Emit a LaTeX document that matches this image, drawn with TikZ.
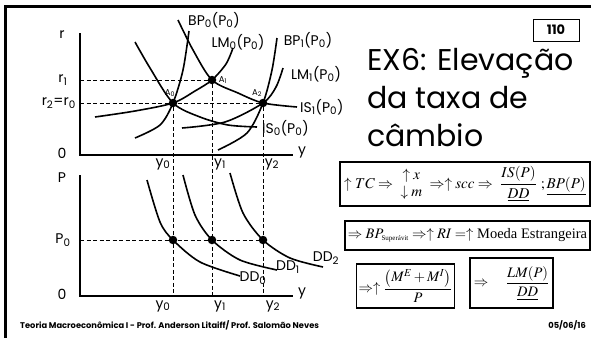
\documentclass[tikz,border=0pt]{standalone}
\usepackage{mathptmx}
\usepackage{fontspec}
\setmainfont{Poppins}
\newfontfamily\tms{Liberation Serif}
\newcommand{\ix}[1]{\textsubscript{#1}}
\begin{document}
\begin{tikzpicture}[x=1pt,y=-1pt,
  curve/.style={line width=1.6pt},
  axis/.style={line width=2pt},
  guide/.style={line width=1pt,dash pattern=on 4pt off 2.5pt},
  dot/.style={circle,fill,inner sep=0pt,minimum size=8.5pt},
  lbl/.style={font=\fontsize{14}{14}\selectfont,inner sep=0pt},
  tag/.style={font=\fontsize{8.5}{8.5}\selectfont,inner sep=0pt},
  eqbox/.style={draw,line width=1.6pt,inner sep=2pt,font=\fontsize{14.5}{16}\selectfont},
  foot/.style={font=\bfseries\fontsize{8.3}{8.3}\selectfont,inner sep=0pt}]
\useasboundingbox (0,0) rectangle (591,338);
% moldura
\draw[line width=3pt] (591,6) -- (5,6) -- (5,338);
\node[draw,line width=1pt,minimum width=46pt,minimum height=22pt,inner sep=0pt,
  font=\bfseries\fontsize{13}{13}\selectfont] (num) at (556,30) {110};
\node[anchor=north west,align=left,inner sep=0pt,
  font=\fontsize{30}{38}\selectfont] (titulo) at (367,48) {EX6: Elevação\\da taxa de\\câmbio};

% grafico IS-LM-BP
\coordinate (O1) at (80,155);
\draw[axis] (80,33) -- (O1) -- (293,155);
\node[lbl] (r) at (62,35) {r};
\node[lbl] (zero1) at (62,153) {0};
\node[lbl] (y1ax) at (302,152) {y};
\node[lbl] (r1) at (63,80) {r\ix{1}};
\node[lbl,anchor=east] (r0) at (76,103) {r\ix{2}=r\ix{0}};

\draw[curve] plot[smooth] coordinates {(135,42) (150,68) (173,103) (200,117) (228,125) (257,127)};
\draw[curve] plot[smooth] coordinates {(178,20) (193,50) (212,80) (238,93) (263,103) (297,107)};
\draw[curve] plot[smooth] coordinates {(95,117) (135,111) (173,103) (195,91) (212,80) (226,64) (233,48)};
\draw[curve] plot[smooth] coordinates {(182,128) (225,122) (263,103) (276,87) (283,68)};
\draw[curve] plot[smooth] coordinates {(135,138) (160,125) (173,103) (183,70) (189,31)};
\draw[curve] plot[smooth] coordinates {(218,150) (247,133) (263,103) (272,70) (277,38)};

\node[lbl] (bp0) at (214,20) {BP\ix{0}(P\ix{0})};
\node[lbl] (lm0) at (238,42) {LM\ix{0}(P\ix{0})};
\node[lbl] (bp1) at (308,40) {BP\ix{1}(P\ix{0})};
\node[lbl] (lm1) at (316,74) {LM\ix{1}(P\ix{0})};
\node[lbl,anchor=west] (is1) at (300,107) {IS\ix{1}(P\ix{0})};
\node[lbl,anchor=west] (is0) at (262,128) {IS\ix{0}(P\ix{0})};

\node[dot] (A0) at (173,103) {};
\node[dot] (A1) at (212,80) {};
\node[dot] (A2) at (263,103) {};
\node[tag] (a0) at (170,93) {A\ix{0}};
\node[tag] (a1) at (223,80) {A\ix{1}};
\node[tag] (a2) at (257,93) {A\ix{2}};

% grafico DD
\coordinate (O2) at (80,296);
\draw[axis] (80,175) -- (O2) -- (293,296);
\node[lbl] (P) at (62,178) {P};
\node[lbl] (p0) at (63,240) {P\ix{0}};
\node[lbl] (zero2) at (62,294) {0};
\node[lbl] (y2ax) at (302,293) {y};

\draw[curve] plot[smooth] coordinates {(147,180) (160,222) (173,240) (200,262) (240,276)};
\draw[curve] plot[smooth] coordinates {(183,175) (195,215) (212,240) (240,260) (277,270)};
\draw[curve] plot[smooth] coordinates {(230,173) (243,213) (263,240) (290,258) (323,267)};
\node[lbl] (dd0) at (253,278) {DD\ix{0}};
\node[lbl] (dd1) at (288,267) {DD\ix{1}};
\node[lbl] (dd2) at (326,258) {DD\ix{2}};

\node[dot] (B0) at (173,240) {};
\node[dot] (B1) at (212,240) {};
\node[dot] (B2) at (263,240) {};

% tracejados
\draw[guide] (80,80) -- (A1);
\draw[guide] (80,103) -- (A2);
\draw[guide] (80,240) -- (B2);
\draw[guide] (A0) -- (A0 |- O2);
\draw[guide] (A1) -- (A1 |- O2);
\draw[guide] (A2) -- (A2 |- O2);

\node[lbl] (ya0) at (163,164) {y\ix{0}};
\node[lbl] (ya1) at (220,164) {y\ix{1}};
\node[lbl] (ya2) at (272,164) {y\ix{2}};
\node[lbl] (yb0) at (163,306) {y\ix{0}};
\node[lbl] (yb1) at (220,306) {y\ix{1}};
\node[lbl] (yb2) at (273,306) {y\ix{2}};

% quadros de texto
\node[eqbox,minimum width=250pt,minimum height=44pt,font=\fontsize{15}{17}\selectfont] (q1) at (465,184)
  {$\uparrow TC\Rightarrow\ \begin{array}{@{}c@{}}\uparrow x\\ \downarrow m\end{array}\ \Rightarrow\uparrow scc\Rightarrow\ \displaystyle\frac{IS(P)}{\underline{DD}}\ ;\underline{BP(P)}$};
\node[eqbox,minimum width=245pt,minimum height=29pt] (q2) at (467.5,235.5)
  {$\Rightarrow BP_{\mbox{\tms\fontsize{7}{7}\selectfont Superávit}}\Rightarrow\uparrow RI=\uparrow$ {\tms Moeda Estrangeira}};
\node[eqbox,minimum width=95pt,minimum height=44pt] (q3) at (405.5,286)
  {$\Rightarrow\uparrow\displaystyle\frac{\left(M^E+M^I\right)}{P}$};
\node[eqbox,minimum width=83pt,minimum height=50pt] (q4) at (511.5,283)
  {$\Rightarrow\quad\displaystyle\frac{LM(P)}{\underline{DD}}$};

\node[foot,anchor=west] (autor) at (20,325) {Teoria Macroeconômica I - Prof. Anderson Litaiff/ Prof. Salomão Neves};
\node[foot,anchor=east] (data) at (586,325) {05/06/16};
\end{tikzpicture}
\end{document}
